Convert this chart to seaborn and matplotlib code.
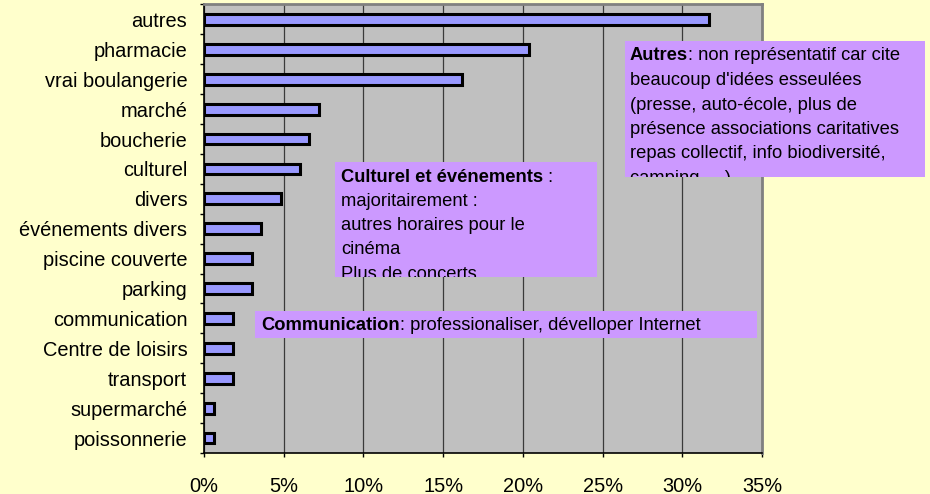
import matplotlib
matplotlib.use('Agg')
import matplotlib.pyplot as plt
import seaborn as sns
import numpy as np
from matplotlib.patches import Rectangle
from matplotlib.ticker import PercentFormatter, FixedLocator
from matplotlib.transforms import Bbox, TransformedBbox

# Values (share of answers)
categories = ['autres', 'pharmacie', 'vrai boulangerie', 'marché', 'boucherie',
              'culturel', 'divers', 'événements divers', 'piscine couverte',
              'parking', 'communication', 'Centre de loisirs', 'transport',
              'supermarché', 'poissonnerie']
shares = [0.317, 0.204, 0.162, 0.072, 0.066, 0.060, 0.048, 0.036, 0.030,
          0.030, 0.018, 0.018, 0.018, 0.006, 0.006]
x_ticks = [0, 0.05, 0.10, 0.15, 0.20, 0.25, 0.30, 0.35]

# Comment boxes: (bold head, rest of first line, following lines)
note_autres = ('Autres', ': non représentatif car cite',
               ["beaucoup d'idées esseulées", '(presse, auto-école, plus de',
                'présence associations caritatives', 'repas collectif, info biodiversité,',
                'camping, ...)'])
note_culturel = ('Culturel et événements', ' :',
                 ['majoritairement :', 'autres horaires pour le', 'cinéma',
                  'Plus de concerts'])
note_comm = ('Communication', ': professionaliser, dévelloper Internet', [])

sns.set_theme(style='white')
plt.rcParams['font.family'] = ['Liberation Sans', 'DejaVu Sans']

W, H = 930, 494
FS_TICK = 14.4
FS_NOTE = 13.2
fig = plt.figure(figsize=(W / 100, H / 100), dpi=100, facecolor='#FFFFCC')
ax = fig.add_axes([204 / W, 1 - 453 / H, 558 / W, 448.5 / H])
ax.set_facecolor('#C0C0C0')

sns.barplot(x=shares, y=categories, orient='h', color='#9999FF', saturation=1,
            edgecolor='black', linewidth=2.2, width=0.36, ax=ax, zorder=3)

ax.set_xlim(0, 0.35)
ax.set_ylim(14.5, -0.5)
ax.set_xticks(x_ticks)
ax.xaxis.set_major_formatter(PercentFormatter(1, decimals=0))
ax.xaxis.grid(True, color='#3a3a3a', lw=0.9)
ax.set_axisbelow(True)
ax.set_xlabel('')
ax.set_ylabel('')

ax.tick_params(axis='x', bottom=True, length=3, width=1, color='black',
               pad=14, labelsize=FS_TICK, labelcolor='black')
ax.tick_params(axis='y', which='major', left=False, length=0, pad=12,
               labelsize=FS_TICK, labelcolor='black')
ax.yaxis.set_minor_locator(FixedLocator(np.arange(-0.5, 15, 1)))
ax.tick_params(axis='y', which='minor', left=True, length=3, width=1, color='black')

for s in ['left', 'bottom']:
    ax.spines[s].set_color('black')
    ax.spines[s].set_linewidth(1.2)
for s in ['top', 'right']:
    ax.spines[s].set_color('#808080')
    ax.spines[s].set_linewidth(2)

renderer = fig.canvas.get_renderer()


def fx(px):
    return px / W


def fy(py):
    return 1 - py / H


def draw_note(note, box, text_x, first_y, step):
    x0, y0, x1, y1 = box
    rect = Rectangle((fx(x0), fy(y1)), fx(x1 - x0), (y1 - y0) / H,
                     transform=fig.transFigure, facecolor='#CC99FF',
                     edgecolor='none', zorder=5)
    fig.patches.append(rect)
    clip = TransformedBbox(Bbox.from_extents(fx(x0), fy(y1), fx(x1), fy(y0)),
                           fig.transFigure)
    head, rest, lines = note
    t = fig.text(fx(text_x), fy(first_y), head, fontsize=FS_NOTE, fontweight='bold',
                 va='center', ha='left', color='black', zorder=6)
    t.set_clip_box(clip)
    bb = t.get_window_extent(renderer)
    t2 = fig.text(bb.x1 / W, fy(first_y), rest, fontsize=FS_NOTE, va='center',
                  ha='left', color='black', zorder=6)
    t2.set_clip_box(clip)
    for i, line in enumerate(lines):
        tl = fig.text(fx(text_x), fy(first_y + step * (i + 1)), line, fontsize=FS_NOTE,
                      va='center', ha='left', color='black', zorder=6)
        tl.set_clip_box(clip)


draw_note(note_autres, (625, 41, 925, 177), 630, 56, 24.5)
draw_note(note_culturel, (335, 162, 597, 277), 341, 177, 24.3)
draw_note(note_comm, (255, 311, 757, 338), 261, 325.5, 24)

fig.savefig('out.png', dpi=100, facecolor=fig.get_facecolor())
